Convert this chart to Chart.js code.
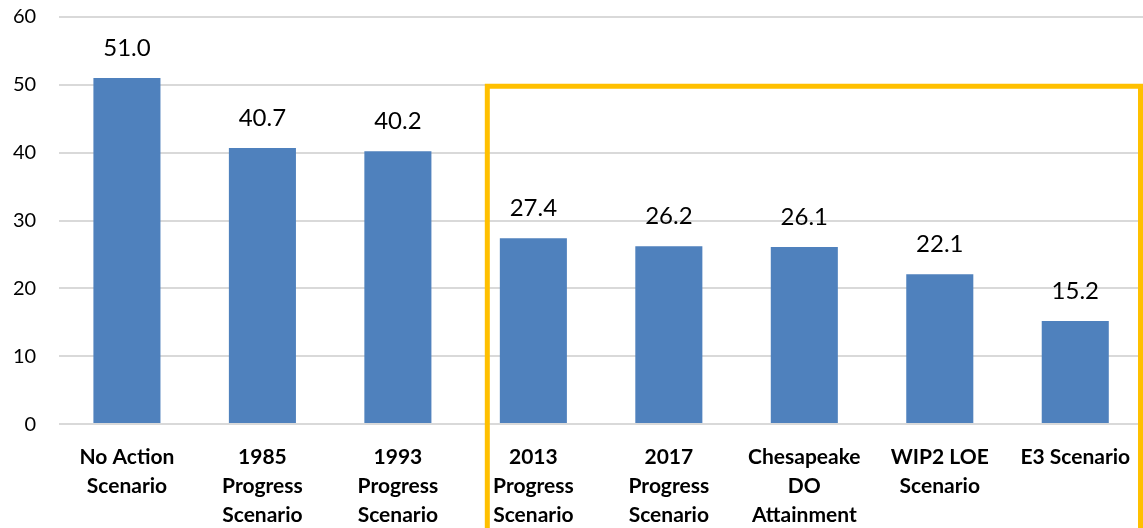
<!DOCTYPE html>
<html><head><meta charset="utf-8">
<script src="https://cdn.jsdelivr.net/npm/chart.js@4"></script>
<style>html,body{margin:0;padding:0;background:#fff}#wrap{width:1143px;height:528px}</style>
</head><body><div id="wrap"><canvas id="c" width="1143" height="528"></canvas></div>
<script>
const categories = [
  ["No Action","Scenario"],
  ["1985","Progress","Scenario"],
  ["1993","Progress","Scenario"],
  ["2013","Progress","Scenario"],
  ["2017","Progress","Scenario"],
  ["Chesapeake","DO","Attainment"],
  ["WIP2 LOE","Scenario"],
  ["E3 Scenario"]
];
const values = [51.0, 40.7, 40.2, 27.4, 26.2, 26.1, 22.1, 15.2];
const yTicks = [0, 10, 20, 30, 40, 50, 60];
const highlightStartIndex = 2.66;
const highlightTopValue = 49.8;

const FONT = "Lato, 'Liberation Sans', sans-serif";

const labelPlugin = {
  id: 'labels',
  afterDatasetsDraw(chart) {
    const ctx = chart.ctx;
    const meta = chart.getDatasetMeta(0);
    ctx.save();
    ctx.font = "24px " + FONT;
    ctx.fillStyle = '#000';
    ctx.textAlign = 'center';
    ctx.textBaseline = 'middle';
    meta.data.forEach((bar, i) => {
      ctx.fillText(values[i].toFixed(1), bar.x, bar.y - 30);
    });
    ctx.restore();
  },
  afterDraw(chart) {
    const ctx = chart.ctx;
    const x = chart.scales.x, y = chart.scales.y;
    const left = x.getPixelForValue(highlightStartIndex);
    const top = y.getPixelForValue(highlightTopValue);
    const right = chart.chartArea.right - 2.5;
    ctx.save();
    ctx.strokeStyle = '#FFC000';
    ctx.lineWidth = 5;
    ctx.beginPath();
    ctx.moveTo(left, chart.height + 10);
    ctx.lineTo(left, top);
    ctx.lineTo(right, top);
    ctx.lineTo(right, chart.height + 10);
    ctx.stroke();
    ctx.restore();
  }
};

new Chart(document.getElementById('c'), {
  type: 'bar',
  data: {
    labels: categories,
    datasets: [{ data: values, backgroundColor: '#4F81BD', categoryPercentage: 1.0, barPercentage: 0.495 }]
  },
  options: {
    responsive: false,
    animation: false,
    devicePixelRatio: 1,
    layout: { padding: { left: 13, right: 0, top: 17, bottom: -2 } },
    plugins: { legend: { display: false }, tooltip: { enabled: false } },
    scales: {
      x: {
        grid: { display: false, drawTicks: true, tickLength: 19 },
        border: { display: false },
        ticks: { color: '#000', font: { family: FONT, size: 21, weight: 'bold', lineHeight: 1.38 }, padding: 0, maxRotation: 0, autoSkip: false }
      },
      y: {
        min: 0, max: 60,
        afterBuildTicks(scale) { scale.ticks = yTicks.map(v => ({ value: v })); },
        grid: { color: '#D9D9D9', lineWidth: 2, drawTicks: true, tickLength: 23, tickColor: 'rgba(0,0,0,0)' },
        border: { display: false },
        ticks: { color: '#000', font: { family: FONT, size: 20 }, padding: 0 }
      }
    }
  },
  plugins: [labelPlugin]
});
</script></body></html>
